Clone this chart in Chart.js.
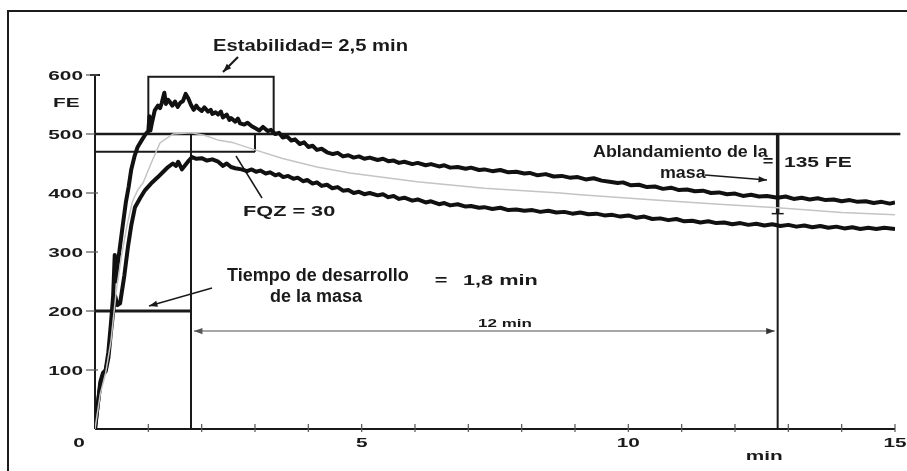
<!DOCTYPE html>
<html>
<head>
<meta charset="utf-8">
<script src="https://cdn.jsdelivr.net/npm/chart.js@4.4.1/dist/chart.umd.min.js"></script>
<style>
  html, body { margin: 0; padding: 0; background: #fff; }
  #wrap { position: relative; width: 907px; height: 471px; overflow: hidden; }
  #frame { position: absolute; left: 7px; top: 10px; width: 905px; height: 470px;
           border-left: 2px solid #1c1c1c; border-top: 2px solid #1c1c1c; }
  canvas { position: absolute; left: 0; top: 0; }
</style>
</head>
<body>
<div id="wrap">
  <div id="frame"></div>
  <canvas id="chart" width="907" height="471"></canvas>
</div>
<script>
// farinograma - curvas (min, FE)

// borde superior de la banda
const upperT = [0, 0.05, 0.1, 0.15, 0.2, 0.25, 0.3, 0.34, 0.37, 0.39, 0.42, 0.47, 0.52, 0.58, 0.63, 0.68, 0.74,
  0.8, 0.88, 0.95, 1.0, 1.02, 1.04, 1.07, 1.12, 1.18, 1.22, 1.25, 1.3, 1.33, 1.37, 1.4, 1.45, 1.5, 1.55, 1.6,
  1.65, 1.7, 1.75, 1.8, 1.85, 1.9, 1.93, 2.0, 2.05, 2.12, 2.17, 2.2, 2.26, 2.31, 2.36, 2.4, 2.47, 2.52, 2.55,
  2.63, 2.68, 2.72, 2.8, 2.86, 2.94,
  3.0, 3.08, 3.15, 3.24, 3.3, 3.38, 3.45, 3.52, 3.6, 3.68, 3.75, 3.84, 3.92, 4.0, 4.08, 4.16, 4.25, 4.35,
  4.46, 4.55, 4.65, 4.75, 4.85, 4.95, 5.05, 5.15, 5.3, 5.4, 5.5, 5.6, 5.7, 5.8, 5.95, 6.05, 6.2, 6.3, 6.45,
  6.55, 6.66, 6.8, 6.95, 7.05, 7.2, 7.3, 7.45, 7.6, 7.75, 7.9, 8.05, 8.15, 8.3, 8.45, 8.6, 8.75, 8.9, 9.05,
  9.2, 9.35, 9.5, 9.65, 9.8, 9.9, 10.05, 10.2, 10.35, 10.5, 10.65, 10.8, 10.95, 11.1, 11.25, 11.4, 11.55,
  11.7, 11.85, 12.0, 12.15, 12.3, 12.45, 12.6, 12.8, 12.95, 13.1, 13.25, 13.4, 13.55, 13.7, 13.85, 14.0,
  14.15, 14.3, 14.45, 14.6, 14.75, 14.9, 15.0];
const upperFE = [0, 40, 80, 95, 100, 130, 180, 225, 295, 250, 275, 310, 345, 385, 410, 440, 462,
  478, 490, 500, 505, 530, 506, 520, 540, 548, 544, 552, 570, 551, 558, 555, 548, 555, 546, 553,
  556, 568, 560, 549, 541, 548, 544, 539, 545, 538, 541, 534, 537, 533, 538, 528, 533, 524, 527,
  521, 526, 518, 516, 519, 513,
  510, 506, 512, 505, 507, 500, 502, 494, 496, 489, 491, 483, 486, 478, 480, 473, 475, 469,
  466, 468, 462, 464, 460, 462, 458, 460, 456, 458, 454, 455, 451, 453, 449, 451, 447, 449, 445,
  447, 443, 444, 441, 443, 439, 440, 437, 439, 435, 436, 433, 434, 430, 432, 428, 429, 426, 427,
  423, 425, 421, 419, 417, 418, 413, 414, 410, 411, 407, 409, 405, 406, 403, 404, 400,
  401, 398, 399, 395, 397, 394, 395, 392, 394, 390, 392, 389, 391, 388, 389, 386,
  388, 385, 386, 383, 385, 382, 384];

// borde inferior de la banda
const lowerT = [0, 0.05, 0.1, 0.15, 0.2, 0.25, 0.3, 0.35, 0.38, 0.42, 0.47, 0.55, 0.62, 0.68, 0.75, 0.85,
  0.94, 1.05, 1.18, 1.28, 1.37, 1.46, 1.52, 1.56, 1.63, 1.69, 1.76, 1.82, 1.9, 2.0, 2.1, 2.2, 2.31, 2.4,
  2.47, 2.55, 2.63, 2.75, 2.85,
  2.94, 3.02, 3.1, 3.2, 3.28, 3.38, 3.45, 3.53, 3.62, 3.72, 3.8, 3.9, 3.98, 4.08, 4.16, 4.25, 4.35, 4.45,
  4.55, 4.65, 4.75, 4.85, 4.95, 5.05, 5.15, 5.3, 5.4, 5.5, 5.6, 5.7, 5.8, 5.95, 6.05, 6.2, 6.3, 6.45, 6.55,
  6.66, 6.8, 6.95, 7.05, 7.2, 7.3, 7.45, 7.6, 7.75, 7.9, 8.05, 8.2, 8.35, 8.5, 8.65, 8.8, 8.95, 9.1, 9.25,
  9.4, 9.55, 9.7, 9.85, 10.0, 10.15, 10.3, 10.45, 10.6, 10.75, 10.9, 11.05, 11.2, 11.35, 11.5, 11.65, 11.8,
  11.95, 12.1, 12.25, 12.4, 12.55, 12.7, 12.85, 13.0, 13.15, 13.3, 13.45, 13.6, 13.75, 13.9, 14.05, 14.2,
  14.35, 14.5, 14.65, 14.8, 15.0];
const lowerFE = [0, 40, 75, 92, 98, 120, 165, 205, 225, 210, 213, 260, 310, 345, 376, 392,
  405, 416, 427, 436, 444, 450, 446, 453, 440, 447, 455, 461, 458, 459, 455, 457, 453, 446,
  450, 444, 442, 440, 437,
  440, 436, 438, 433, 435, 430, 432, 427, 429, 424, 426, 420, 422, 416, 418, 412, 414, 408,
  410, 404, 405, 400, 402, 398, 400, 396, 398, 393, 395, 390, 392, 387, 389, 384, 386, 381, 383,
  379, 381, 377, 378, 375, 376, 373, 375, 371, 372, 370, 371, 368, 370, 367, 368, 365, 367, 364,
  365, 362, 363, 360, 362, 358, 360, 356, 357, 354, 356, 352, 353, 350, 352, 349, 350,
  347, 349, 346, 348, 345, 347, 344, 346, 343, 345, 342, 344, 341, 343, 340, 342,
  339, 341, 339, 341, 339];

// linea central (gris)
const middleT = [0, 0.1, 0.2, 0.3, 0.4, 0.5, 0.6, 0.7, 0.8, 0.9, 1.05, 1.22, 1.46, 1.8, 2.05, 2.3, 2.6,
  2.9, 3.5, 4.16, 4.78, 6.04, 7.3, 8.72, 9.1, 10.5, 11.7, 12.8, 14.0, 15.0];
const middleFE = [0, 60, 95, 150, 235, 295, 345, 385, 405, 417, 450, 485, 500, 502, 498, 490, 485,
  476, 459, 444, 434, 419, 408, 400, 397, 388, 381, 375, 367, 363];

// marcas del farinograma
const yTicks = [100, 200, 300, 400, 500, 600];
const xLabels = [5, 10, 15];
const consistency = 500;      // linea de 500 FE
const fqzLevel = 470;         // nivel FQZ
const fqzEnd = 3.0;
const devTime = 1.8;          // tiempo de desarrollo
const devLevel = 200;
const softenTime = 12.8;      // 12 min despues del desarrollo
const softenLevel = 365;
const spanLevel = 166;
const stabStart = 1.0;
const stabEnd = 3.35;
const stabTop = 597;

const INK = '#1a1a1a';

function txt(ctx, s, x, y, size, sx, align) {
  ctx.save();
  ctx.font = 'bold ' + size + 'px "Liberation Sans", Arial, sans-serif';
  ctx.fillStyle = INK;
  ctx.translate(x, y);
  ctx.scale(sx, 1);
  ctx.textAlign = align || 'left';
  ctx.textBaseline = 'alphabetic';
  ctx.fillText(s, 0, 0);
  ctx.restore();
}

function seg(ctx, x1, y1, x2, y2, w, color) {
  ctx.save();
  ctx.strokeStyle = color || INK;
  ctx.lineWidth = w;
  ctx.beginPath();
  ctx.moveTo(x1, y1);
  ctx.lineTo(x2, y2);
  ctx.stroke();
  ctx.restore();
}

function arrowHead(ctx, fx, fy, tx, ty, size, color) {
  const a = Math.atan2(ty - fy, tx - fx);
  ctx.save();
  ctx.fillStyle = color || INK;
  ctx.beginPath();
  ctx.moveTo(tx, ty);
  ctx.lineTo(tx - size * Math.cos(a - 0.35), ty - size * Math.sin(a - 0.35));
  ctx.lineTo(tx - size * Math.cos(a + 0.35), ty - size * Math.sin(a + 0.35));
  ctx.closePath();
  ctx.fill();
  ctx.restore();
}

function arrow(ctx, fx, fy, tx, ty, w, size, color) {
  seg(ctx, fx, fy, tx, ty, w, color);
  arrowHead(ctx, fx, fy, tx, ty, size, color);
}

const farinoPlugin = {
  id: 'farino',
  beforeDatasetsDraw(chart) {
    const ctx = chart.ctx;
    const xs = chart.scales.x, ys = chart.scales.y;
    const X = v => xs.getPixelForValue(v);
    const Y = v => ys.getPixelForValue(v);

    // ejes
    seg(ctx, X(0), Y(0), X(0), Y(600), 2);
    seg(ctx, X(0), Y(0), X(15), Y(0), 2);
    seg(ctx, X(0) - 5, Y(600), X(0) + 5, Y(600), 2);
    yTicks.forEach(v => {
      seg(ctx, X(0) - 9, Y(v), X(0) + 3, Y(v), 1.2, '#555');
      txt(ctx, String(v), X(0) - 12, Y(v) + 5, 13, 1.6, 'right');
    });
    for (let m = 1; m <= 15; m++) {
      seg(ctx, X(m), Y(0) - 5, X(m), Y(0) + 3, 1.2, '#555');
    }
    txt(ctx, '0', X(0) - 16, Y(0) + 18, 13, 1.6, 'center');
    xLabels.forEach(v => txt(ctx, String(v), X(v), Y(0) + 18, 13, 1.6, 'center'));
    txt(ctx, 'FE', X(0) - 42, Y(555) + 5, 13, 1.6, 'left');
    txt(ctx, 'min', X(12.2), Y(0) + 31, 13, 1.6, 'left');

    // lineas de referencia
    seg(ctx, X(0), Y(consistency), X(15.1), Y(consistency), 2.5);
    seg(ctx, X(0), Y(fqzLevel), X(fqzEnd), Y(fqzLevel), 2);
    seg(ctx, X(fqzEnd), Y(fqzLevel), X(fqzEnd), Y(consistency), 2);
    seg(ctx, X(devTime), Y(0), X(devTime), Y(consistency), 2);
    seg(ctx, X(0), Y(devLevel), X(devTime), Y(devLevel), 3);
    ctx.save();
    ctx.strokeStyle = INK;
    ctx.lineWidth = 2;
    ctx.strokeRect(X(stabStart), Y(stabTop), X(stabEnd) - X(stabStart), Y(consistency) - Y(stabTop));
    ctx.restore();
    seg(ctx, X(softenTime), Y(0), X(softenTime), Y(consistency), 2);
    seg(ctx, X(softenTime), Y(softenLevel), X(softenTime), Y(consistency), 3.5);
    seg(ctx, X(softenTime) - 6, Y(softenLevel), X(softenTime) + 6, Y(softenLevel), 1.5);

    // flecha de 12 min
    const ya = Y(spanLevel);
    seg(ctx, X(devTime) + 3, ya, X(softenTime) - 3, ya, 1.5, '#888');
    arrowHead(ctx, X(devTime) + 20, ya, X(devTime) + 3, ya, 9, '#555');
    arrowHead(ctx, X(softenTime) - 20, ya, X(softenTime) - 3, ya, 9, '#333');
    txt(ctx, '12 min', 478, 327, 10, 1.7, 'left');

    // textos
    txt(ctx, 'Estabilidad= 2,5 min', 213, 51, 17, 1.19, 'left');
    arrow(ctx, 238, 57, 223, 72, 2.2, 9);
    txt(ctx, 'FQZ = 30', 243, 216, 14, 1.55, 'left');
    seg(ctx, 262, 198, 236, 156, 1.5);
    txt(ctx, 'Tiempo de desarrollo', 227, 281, 18, 1.0, 'left');
    txt(ctx, 'de la masa', 270, 302, 18, 1.0, 'left');
    txt(ctx, '=', 441, 285, 14, 1.55, 'center');
    txt(ctx, '1,8 min', 463, 285, 14, 1.55, 'left');
    arrow(ctx, 212, 288, 149, 306, 1.5, 9);
    txt(ctx, 'Ablandamiento de la', 593, 157, 17, 1.05, 'left');
    txt(ctx, 'masa', 660, 178, 17, 1.05, 'left');
    arrow(ctx, 705, 175, 767, 180, 1.5, 9);
    txt(ctx, '=', 768, 166, 14, 1.3, 'center');
    txt(ctx, '135 FE', 784, 167, 14, 1.5, 'left');
  }
};

const toXY = (ts, vs) => ts.map((t, i) => ({ x: t, y: vs[i] }));

new Chart(document.getElementById('chart'), {
  type: 'line',
  data: {
    datasets: [
      { data: toXY(middleT, middleFE), borderColor: '#c4c4c4', borderWidth: 1.5 },
      { data: toXY(upperT, upperFE), borderColor: '#111', borderWidth: 4 },
      { data: toXY(lowerT, lowerFE), borderColor: '#111', borderWidth: 4 }
    ]
  },
  options: {
    responsive: false,
    animation: false,
    elements: { point: { radius: 0 }, line: { tension: 0, borderJoinStyle: 'round' } },
    layout: { padding: { left: 95, right: 12, top: 75, bottom: 42 } },
    scales: {
      x: { type: 'linear', min: 0, max: 15, display: false },
      y: { type: 'linear', min: 0, max: 600, display: false }
    },
    plugins: { legend: { display: false }, tooltip: { enabled: false } }
  },
  plugins: [farinoPlugin]
});
</script>
</body>
</html>
